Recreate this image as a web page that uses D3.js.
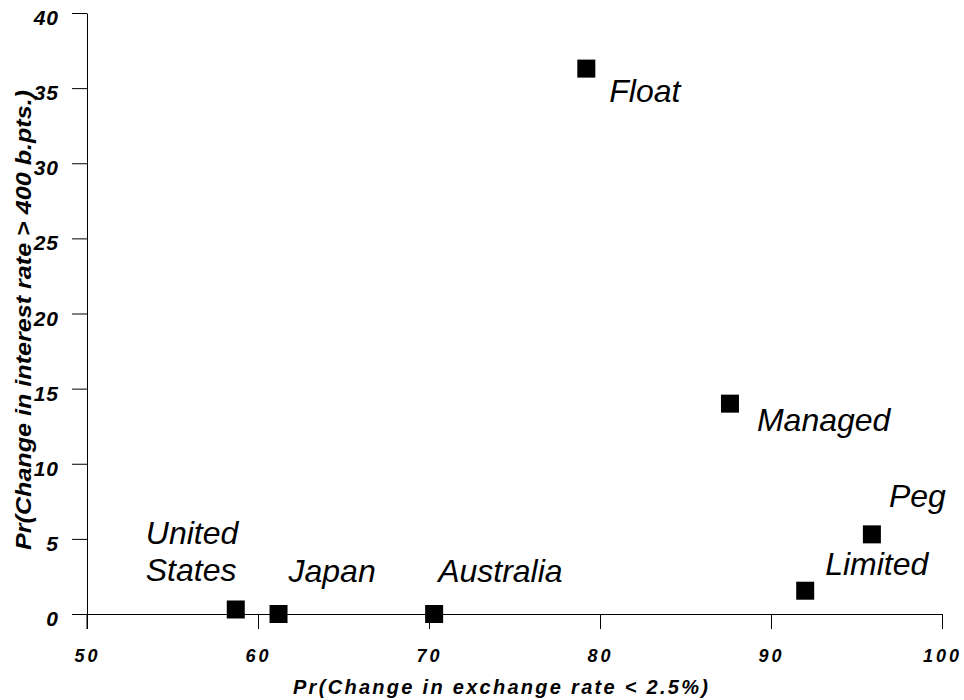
<!DOCTYPE html>
<html>
<head>
<meta charset="utf-8">
<script src="https://cdn.jsdelivr.net/npm/d3@7"></script>
<style>
  body { margin: 0; background: #fff; }
  svg { display: block; }
  text { font-family: 'Liberation Sans', Arial, sans-serif; fill: #000; }
</style>
</head>
<body>
<div id="chart"></div>
<script>
// regimes / countries
const names = ['United States', 'Japan', 'Australia', 'Float', 'Managed', 'Peg', 'Limited'];
const exchangeProb = [58.7, 61.2, 70.3, 79.2, 87.6, 95.9, 92.0];
const interestProb = [0.3, 0.0, 0.0, 36.3, 14.0, 5.3, 1.55];
const xTicks = [50, 60, 70, 80, 90, 100];
const yTicks = [0, 5, 10, 15, 20, 25, 30, 35, 40];
// label offsets from the square, px
const labelDx = [-90, 10, 4, 23, 27, 17, 20];
const labelDy = [-65, -32, -32, 33, 27, -27, -16];

const width = 964;
const height = 700;
const margin = { top: 13, right: 22, bottom: 86, left: 87 };
const font = "'Liberation Sans', Arial, sans-serif";

const svg = d3
  .select('#chart')
  .append('svg')
  .attr('width', width)
  .attr('height', height);

const x = d3
  .scaleLinear()
  .domain([50, 100])
  .range([margin.left, width - margin.right]);
const y = d3
  .scaleLinear()
  .domain([0, 40])
  .range([height - margin.bottom, margin.top]);

// x axis sits on y = 0
const xAxis = svg
  .append('g')
  .attr('transform', `translate(0,${y(0)})`)
  .call(d3.axisBottom(x).tickValues(xTicks).tickSize(15).tickSizeOuter(0).tickPadding(20));
xAxis.select('.domain').attr('stroke', '#000');
xAxis.selectAll('.tick line').attr('stroke', '#000');
xAxis
  .selectAll('.tick text')
  .attr('font-size', 18)
  .attr('font-weight', 'bold')
  .attr('font-style', 'italic')
  .attr('letter-spacing', 3)
  .attr('font-family', font);

const yAxis = svg
  .append('g')
  .attr('transform', `translate(${x(50)},0)`)
  .call(d3.axisLeft(y).tickValues(yTicks).tickSize(15).tickSizeOuter(0).tickPadding(13));
yAxis.select('.domain').attr('stroke', '#000');
yAxis.selectAll('.tick line').attr('stroke', '#000');
yAxis
  .selectAll('.tick text')
  .attr('font-size', 21)
  .attr('font-weight', 'bold')
  .attr('font-style', 'italic')
  .attr('letter-spacing', 1)
  .attr('dy', '0.55em')
  .attr('font-family', font);

// y-axis line continues down to the tick length below x axis
svg
  .append('line')
  .attr('x1', x(50))
  .attr('x2', x(50))
  .attr('y1', y(0))
  .attr('y2', y(0) + 15)
  .attr('stroke', '#000');

// axis titles
svg
  .append('text')
  .attr('x', 293)
  .attr('y', 694)
  .attr('font-size', 20)
  .attr('font-weight', 'bold')
  .attr('font-style', 'italic')
  .attr('textLength', 415)
  .attr('lengthAdjust', 'spacing')
  .text('Pr(Change in exchange rate < 2.5%)');

svg
  .append('text')
  .attr('transform', `translate(31,550) rotate(-90)`)
  .attr('font-size', 22)
  .attr('font-weight', 'bold')
  .attr('font-style', 'italic')
  .attr('textLength', 460)
  .attr('lengthAdjust', 'spacingAndGlyphs')
  .text('Pr(Change in interest rate > 400 b.pts.)');

// points
const pts = names.map((n, i) => ({ name: n, x: exchangeProb[i], y: interestProb[i], dx: labelDx[i], dy: labelDy[i] }));
const size = 18;

svg
  .selectAll('.pt')
  .data(pts)
  .join('rect')
  .attr('class', 'pt')
  .attr('x', (d) => x(d.x) - size / 2)
  .attr('y', (d) => y(d.y) - size / 2)
  .attr('width', size)
  .attr('height', size)
  .attr('fill', '#000');

const labels = svg
  .selectAll('.lbl')
  .data(pts)
  .join('text')
  .attr('class', 'lbl')
  .attr('font-size', 32)
  .attr('font-style', 'italic')
  .attr('x', (d) => x(d.x) + d.dx)
  .attr('y', (d) => y(d.y) + d.dy);

labels.each(function (d) {
  const words = d.name.split(' ');
  const t = d3.select(this);
  words.forEach((w, k) => {
    t.append('tspan')
      .attr('x', x(d.x) + d.dx)
      .attr('dy', k === 0 ? 0 : 37)
      .text(w);
  });
});
</script>
</body>
</html>
